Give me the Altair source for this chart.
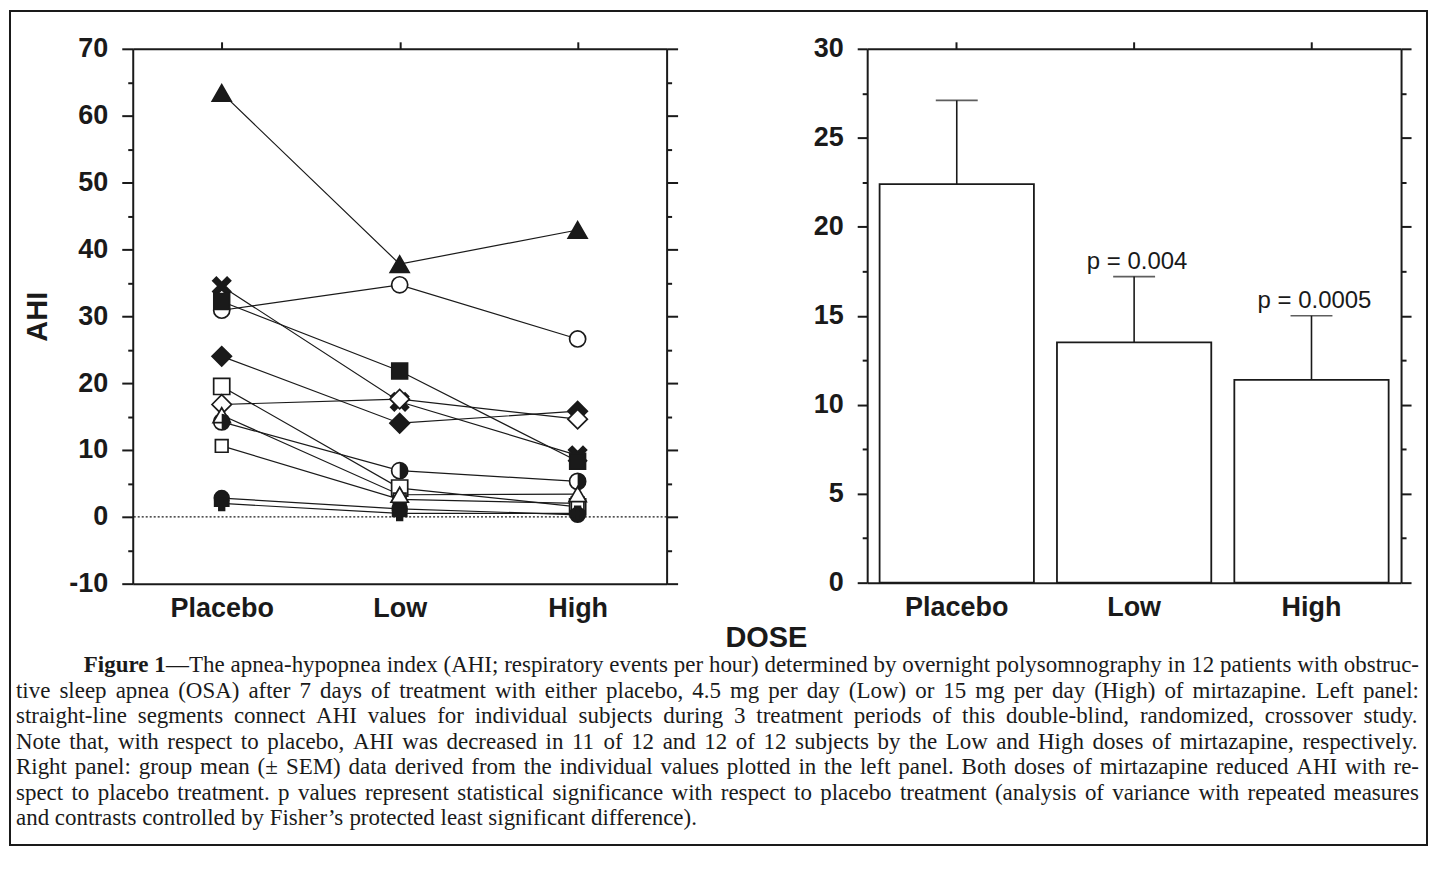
import altair as alt
import pandas as pd

# ---------------- data ----------------
DOSES = ["Placebo", "Low", "High"]

# one marker style per subject (12 subjects)
MARKERS = ["tri_f", "circ_o", "x_f", "sq_f", "dia_f", "sq_o",
           "dia_o", "half", "sq_small", "circ_f", "plus", "tri_o"]
AHI_PLACEBO = [63.4, 30.9, 34.5, 32.2, 24.0, 19.5, 16.8, 14.2, 10.6, 2.8, 2.0, 15.2]
AHI_LOW = [37.8, 34.7, 17.2, 21.8, 14.0, 4.3, 17.6, 6.9, 2.6, 1.2, 0.5, 3.3]
AHI_HIGH = [42.9, 26.6, 9.2, 8.3, 15.8, 1.5, 14.6, 5.3, 2.0, 0.3, 0.5, 3.4]

MEAN_AHI = [22.4, 13.5, 11.4]
SEM_UPPER = [27.1, 17.2, 15.0]
P_TEXT = ["", "p = 0.004", "p = 0.0005"]

Y_LEFT_TICKS = list(range(-10, 71, 5))
Y_RIGHT_TICKS = [i * 2.5 for i in range(13)]

CAPTION_BOLD = "Figure 1"
CAPTION_LINES = [
    "\u2014The apnea-hypopnea index (AHI; respiratory events per hour) determined by overnight polysomnography in 12 patients with obstruc-",
    "tive sleep apnea (OSA) after 7 days of treatment with either placebo, 4.5 mg per day (Low) or 15 mg per day (High) of mirtazapine. Left panel:",
    "straight-line segments connect AHI values for individual subjects during 3 treatment periods of this double-blind, randomized, crossover study.",
    "Note that, with respect to placebo, AHI was decreased in 11 of 12 and 12 of 12 subjects by the Low and High doses of mirtazapine, respectively.",
    "Right panel: group mean (\u00b1 SEM) data derived from the individual values plotted in the left panel. Both doses of mirtazapine reduced AHI with re-",
    "spect to placebo treatment. p values represent statistical significance with respect to placebo treatment (analysis of variance with repeated measures",
    "and contrasts controlled by Fisher\u2019s protected least significant difference).",
]

# ---------------- styles ----------------
INK = "#1a1a1a"
FONT = "Liberation Sans"
SERIF = "Liberation Serif"
CAP_FS = 23

X_PATH = "M-1,-0.6L-0.6,-1L0,-0.4L0.6,-1L1,-0.6L0.4,0L1,0.6L0.6,1L0,0.4L-0.6,1L-1,0.6L-0.4,0Z"
HALF_PATH = "M0,-1A1,1,0,0,1,0,1Z"
STYLE = {
    "tri_f": ("triangle-up", INK, 360),
    "tri_o": ("triangle-up", "white", 300),
    "circ_o": ("circle", "white", 260),
    "circ_f": ("circle", INK, 220),
    "x_f": (X_PATH, INK, 320),
    "sq_f": ("square", INK, 250),
    "sq_o": ("square", "white", 260),
    "sq_small": ("square", "white", 160),
    "dia_f": ("diamond", INK, 380),
    "dia_o": ("diamond", "white", 380),
    "half": ("circle", "white", 260),
    "plus": ("cross", INK, 200),
}

rows = []
for i, m in enumerate(MARKERS):
    shp, fil, siz = STYLE[m]
    for dose, vals in zip(DOSES, (AHI_PLACEBO, AHI_LOW, AHI_HIGH)):
        rows.append({"subject": i, "marker": m, "dose": dose, "ahi": vals[i],
                     "shape": shp, "fill": fil, "size": siz})
ind = pd.DataFrame(rows)

grp = pd.DataFrame({"dose": DOSES, "mean": MEAN_AHI, "upper": SEM_UPPER, "p": P_TEXT})

# ---------------- caption layout (justified) ----------------
W = {' ': 250, '(': 333, ')': 333, ';': 278, ':': 278, ',': 250, '.': 250, '-': 333,
     '\u2014': 1000, '\u00b1': 564, '\u2019': 333, '=': 564}
for c, w in zip("abcdefghijklmnopqrstuvwxyz",
                [444, 500, 444, 500, 444, 333, 500, 500, 278, 278, 500, 278, 778,
                 500, 500, 500, 500, 333, 389, 278, 500, 500, 722, 500, 500, 444]):
    W[c] = w
for c, w in zip("ABCDEFGHIJKLMNOPQRSTUVWXYZ",
                [722, 667, 667, 722, 611, 556, 722, 722, 333, 389, 722, 611, 889,
                 722, 722, 556, 722, 667, 556, 611, 722, 722, 944, 722, 722, 611]):
    W[c] = w
for d in "0123456789":
    W[d] = 500


def tw(s):
    return sum(W.get(c, 500) for c in s) / 1000.0 * CAP_FS


PX0, PY0 = 131, 47          # page position of the left plot origin
LEFT_X, RIGHT_X = 14, 1420
BASE_Y, LEAD = 672, 25.5
BOLD_X = 82
bold_w = 3.583 * CAP_FS

words = []
for li, line in enumerate(CAPTION_LINES):
    toks = line.split(" ")
    x0 = BOLD_X + bold_w if li == 0 else LEFT_X
    widths = [tw(t) for t in toks]
    if li < len(CAPTION_LINES) - 1:
        gap = max((RIGHT_X - x0 - sum(widths)) / (len(toks) - 1), 0.15 * CAP_FS)
    else:
        gap = tw(" ")
    x = x0
    for t, w in zip(toks, widths):
        words.append({"text": t, "x": x - PX0, "y": BASE_Y + li * LEAD - PY0})
        x += w + gap
words = pd.DataFrame(words)
bold_df = pd.DataFrame({"text": [CAPTION_BOLD], "x": [BOLD_X - PX0], "y": [BASE_Y - PY0]})

# ---------------- axes ----------------
AX = dict(domainColor=INK, domainWidth=2, tickColor=INK, tickWidth=2,
          labelFont=FONT, labelFontWeight="bold", labelFontSize=27, labelColor=INK,
          grid=False)


def minor_major(test, big, small):
    return {"condition": {"test": test, "value": big}, "value": small}


axL_left = alt.Axis(orient="left", values=Y_LEFT_TICKS,
                    labelExpr="datum.value % 10 === 0 ? toString(datum.value) : ''",
                    tickSize=minor_major("datum.value % 10 === 0", 11, 5),
                    labelPadding=14, title="AHI", titleFont=FONT, titleFontSize=29,
                    titleFontWeight="bold", titleColor=INK, titlePadding=16, **AX)
axL_right = alt.Axis(orient="right", values=Y_LEFT_TICKS, labels=False,
                     tickSize=minor_major("datum.value % 10 === 0", 11, 5),
                     title=None, **AX)
axL_bottom = alt.Axis(orient="bottom", ticks=False, labelPadding=12, title=None,
                      labelAngle=0, **AX)
axL_top = alt.Axis(orient="top", labels=False, tickSize=7, title=None, **AX)

axR_left = alt.Axis(orient="left", values=Y_RIGHT_TICKS,
                    labelExpr="datum.value % 5 === 0 ? toString(datum.value) : ''",
                    tickSize=minor_major("datum.value % 5 === 0", 10, 5),
                    labelPadding=14, title=None, **AX)
axR_right = alt.Axis(orient="right", values=Y_RIGHT_TICKS, labels=False,
                     tickSize=minor_major("datum.value % 5 === 0", 10, 5),
                     title=None, **AX)
axR_bottom = alt.Axis(orient="bottom", ticks=False, labelPadding=12, title=None,
                      labelAngle=0, **AX)
axR_top = alt.Axis(orient="top", labels=False, tickSize=7, title=None,
                   bandPosition=0.5, **AX)

# ---------------- left panel ----------------
xL = alt.Scale(type="point", domain=DOSES, padding=0.5)
yL = alt.Scale(domain=[-10, 70], nice=False, zero=False)
one = pd.DataFrame({"zero": [0]})

border = alt.Chart(one).mark_rect(fillOpacity=0, stroke=INK, strokeWidth=2).encode(
    x=alt.value(8 - PX0), x2=alt.value(1428 - PX0),
    y=alt.value(9 - PY0), y2=alt.value(845 - PY0))

cap_bold = alt.Chart(bold_df).mark_text(
    align="left", baseline="alphabetic", font=SERIF, fontSize=CAP_FS,
    fontWeight="bold", color=INK).encode(
    x=alt.X("x:Q", scale=None, axis=None), y=alt.Y("y:Q", scale=None, axis=None),
    text="text:N")
cap_words = alt.Chart(words).mark_text(
    align="left", baseline="alphabetic", font=SERIF, fontSize=CAP_FS,
    color=INK).encode(
    x=alt.X("x:Q", scale=None, axis=None), y=alt.Y("y:Q", scale=None, axis=None),
    text="text:N")

dose_title = alt.Chart(one).mark_text(
    text="DOSE", font=FONT, fontSize=29, fontWeight="bold", color=INK,
    align="center", baseline="middle").encode(
    x=alt.value(766 - PX0), y=alt.value(637 - PY0))

lines = alt.Chart(ind).mark_line(color=INK, strokeWidth=1.2).encode(
    x=alt.X("dose:N", sort=DOSES, scale=xL, axis=axL_bottom),
    y=alt.Y("ahi:Q", scale=yL, axis=axL_left),
    detail="subject:N")

zero_line = alt.Chart(one).mark_rule(color=INK, strokeWidth=1.3, strokeDash=[2, 2]).encode(
    y=alt.Y("zero:Q", scale=yL, axis=None))

points = alt.Chart(ind).mark_point(filled=True, stroke=INK, strokeWidth=1.7, opacity=1).encode(
    x=alt.X("dose:N", sort=DOSES, scale=xL, axis=axL_top),
    y=alt.Y("ahi:Q", scale=yL, axis=axL_right),
    shape=alt.Shape("shape:N", scale=None),
    fill=alt.Fill("fill:N", scale=None),
    size=alt.Size("size:Q", scale=None))

half = alt.Chart(ind).transform_filter(alt.datum.marker == "half").mark_point(
    filled=True, shape=HALF_PATH, size=260, fill=INK, strokeWidth=0, opacity=1).encode(
    x=alt.X("dose:N", sort=DOSES, scale=xL, axis=None),
    y=alt.Y("ahi:Q", scale=yL, axis=None))

left = alt.layer(border, cap_bold, cap_words, dose_title, lines, zero_line, points, half).resolve_axis(
    x="independent", y="independent").properties(width=535, height=536)

# ---------------- right panel ----------------
xR = alt.Scale(type="band", domain=DOSES, paddingInner=0.13, paddingOuter=0.07)
yR = alt.Scale(domain=[0, 30], nice=False, zero=True)

bars = alt.Chart(grp).mark_bar(fill="white", stroke=INK, strokeWidth=1.8).encode(
    x=alt.X("dose:N", sort=DOSES, scale=xR, axis=axR_bottom),
    y=alt.Y("mean:Q", scale=yR, axis=axR_left))

err = alt.Chart(grp).mark_rule(color=INK, strokeWidth=1.6).encode(
    x=alt.X("dose:N", sort=DOSES, scale=xR, axis=None),
    y=alt.Y("mean:Q", scale=yR, axis=None), y2="upper:Q")

cap = alt.Chart(grp).mark_tick(color=INK, thickness=1.6, size=42).encode(
    x=alt.X("dose:N", sort=DOSES, scale=xR, axis=axR_top),
    y=alt.Y("upper:Q", scale=yR, axis=axR_right))

ptxt = alt.Chart(grp).mark_text(font=FONT, fontSize=24, color=INK,
                                baseline="middle", dy=-15, dx=3).encode(
    x=alt.X("dose:N", sort=DOSES, scale=xR, axis=None),
    y=alt.Y("upper:Q", scale=yR, axis=None), text="p:N")

right = alt.layer(bars, err, cap, ptxt).resolve_axis(
    x="independent", y="independent").properties(width=535, height=535)

chart = alt.hconcat(left, right, spacing=201, bounds="flush").configure_view(
    stroke="transparent").properties(
    padding={"left": 0, "top": 0, "right": 0, "bottom": 0}, background="white")

chart.save("out.html", embed_options={"renderer": "svg", "actions": False})
